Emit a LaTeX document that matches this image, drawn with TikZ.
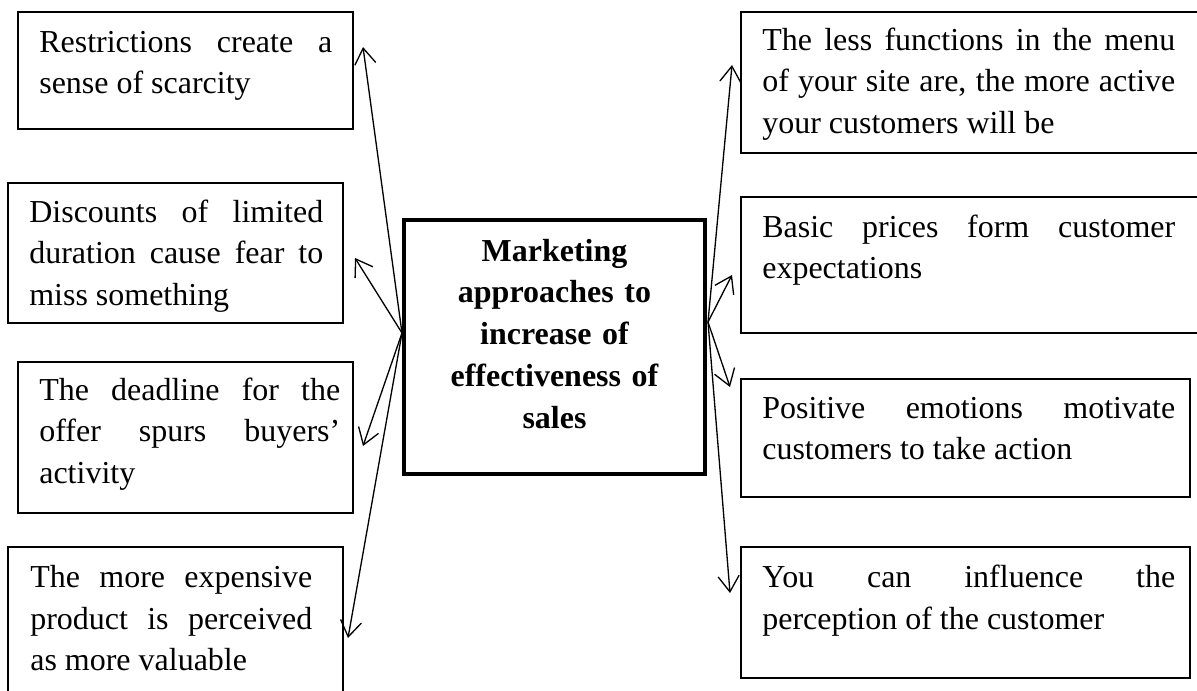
\documentclass[tikz,border=0pt]{standalone}
\usepackage{fontspec}
\setmainfont{Liberation Serif}
\usetikzlibrary{arrows.meta,fit,calc}
\hyphenpenalty=10000
\exhyphenpenalty=10000
\tikzset{
  box/.style={draw, line width=0.85pt, inner sep=0pt, rectangle},
  mainbox/.style={draw, line width=2.2pt, inner sep=0pt, rectangle},
  txt/.style={inner sep=0pt, align=justify, anchor=base west,
    font=\fontsize{18.2}{23.9}\selectfont},
  ctxt/.style={inner sep=0pt, align=center, anchor=base, text width=6cm,
    font=\fontsize{18.2}{23.9}\selectfont\bfseries},
  conn/.style={line width=0.75pt, -{Straight Barb[length=9pt,width=12pt,line width=0.75pt]}}
}
\begin{document}
\begin{tikzpicture}[x=0.02cm,y=-0.02cm]
\useasboundingbox (0,0) rectangle (1197,690);
% boxes
\node[box, fit={(18,12) (353,129)}] (l1) {};
\node[box, fit={(8,183) (343,323)}] (l2) {};
\node[box, fit={(18,362) (353,513)}] (l3) {};
\node[box, fit={(8,547) (343,720)}] (l4) {};
\node[box, fit={(741,12) (1230,153)}] (r1) {};
\node[box, fit={(741,197) (1230,333)}] (r2) {};
\node[box, fit={(741,379) (1190,497)}] (r3) {};
\node[box, fit={(741,547) (1190,678)}] (r4) {};
\node[mainbox, fit={(404,220) (705,474)}] (c) {};
% texts
\node[txt, text width=5.86cm] (t1) at (39,52) {Restrictions create a\linebreak sense of scarcity};
\node[txt, text width=5.88cm] (t2) at (29,222) {Discounts of limited\linebreak duration cause fear to\linebreak miss something};
\node[txt, text width=6.02cm] (t3) at (39,400) {The deadline for the\linebreak offer spurs buyers’\linebreak activity};
\node[txt, text width=5.64cm] (t4) at (30,587) {The more expensive\linebreak product is perceived\linebreak as more valuable};
\node[txt, text width=8.26cm] (t5) at (762,50) {The less functions in the menu\linebreak of your site are, the more active\linebreak your customers will be};
\node[txt, text width=8.26cm] (t6) at (762,237) {Basic prices form customer\linebreak expectations};
\node[txt, text width=8.26cm] (t7) at (762,418) {Positive emotions motivate\linebreak customers to take action};
\node[txt, text width=8.26cm] (t8) at (762,587) {You can influence the\linebreak perception of the customer};
\node[ctxt] (tc) at (554.5,261) {Marketing\\approaches to\\increase of\\effectiveness of\\sales};
% connector ends
\coordinate (cl) at (402,333);
\coordinate (cr) at (708,322);
\coordinate (a1) at (363,47);
\coordinate (a2) at (355,258);
\coordinate (a3) at (363,446);
\coordinate (a4) at (348,638);
\coordinate (b1) at (732,65);
\coordinate (b2) at (732,275);
\coordinate (b3) at (730,387);
\coordinate (b4) at (730,593);
\draw[conn] (cl) -- (a1);
\draw[conn] (cl) -- (a2);
\draw[conn] (cl) -- (a3);
\draw[conn] (cl) -- (a4);
\draw[conn] (cr) -- (b1);
\draw[conn] (cr) -- (b2);
\draw[conn] (cr) -- (b3);
\draw[conn] (cr) -- (b4);
\end{tikzpicture}
\end{document}
